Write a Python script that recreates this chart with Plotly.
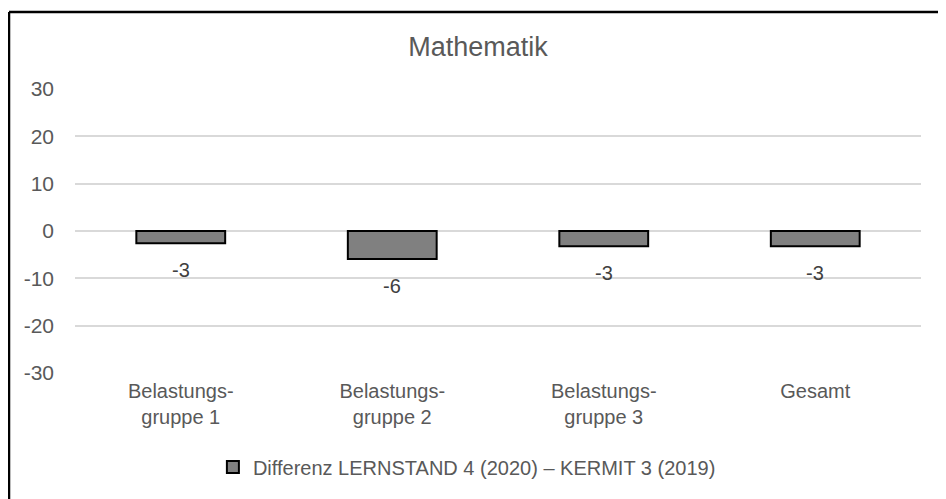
import plotly.graph_objects as go

categories = ["Belastungs-<br>gruppe 1", "Belastungs-<br>gruppe 2", "Belastungs-<br>gruppe 3", "Gesamt"]
values = [-2.6, -5.9, -3.2, -3.2]
series_name = "Differenz LERNSTAND 4 (2020) – KERMIT 3 (2019)"
tick_vals = [-30, -20, -10, 0, 10, 20, 30]
tick_text = ["-30", "-20", "-10", "0", "10", "20", "30"]
title_text = "Mathematik"

FONT = "Liberation Sans, Arial, sans-serif"
GRAY = "#595959"

fig = go.Figure()
fig.add_trace(go.Bar(
    x=categories, y=values, name=series_name,
    marker=dict(color="#808080", line=dict(color="black", width=2)),
    width=0.42, showlegend=True,
))

for c, v in zip(categories, values):
    fig.add_annotation(x=c, y=v, text=f"{round(v):d}", showarrow=False,
                       yshift=-27, yanchor="middle",
                       font=dict(family=FONT, size=20, color="#404040"))

fig.update_layout(
    width=938, height=491,
    margin=dict(l=67, r=25, t=81, b=126),
    paper_bgcolor="white", plot_bgcolor="white",
    font=dict(family=FONT, size=20, color=GRAY),
    title=dict(text=title_text, x=0.501, xref="container", xanchor="center",
               y=0.9206, yref="container", yanchor="middle",
               font=dict(family=FONT, size=27, color=GRAY)),
    showlegend=True,
    legend=dict(orientation="h", x=0.163, xanchor="left", y=-0.331, yanchor="middle",
                font=dict(family=FONT, size=20, color=GRAY), itemwidth=30),
)
fig.update_yaxes(range=[-30, 30], tickvals=tick_vals, ticktext=tick_text,
                 showgrid=True, gridcolor="#d9d9d9",
                 gridwidth=2, zeroline=True, zerolinecolor="#d9d9d9", zerolinewidth=2,
                 showline=False, ticklabelstandoff=20,
                 tickfont=dict(family=FONT, size=21, color=GRAY))
fig.update_xaxes(showgrid=False, showline=False, ticklabelstandoff=4,
                 tickfont=dict(family=FONT, size=20, color=GRAY))

# outer frame (top and left edges)
fig.add_shape(type="line", xref="paper", yref="paper", x0=-0.078, x1=1.2,
              y0=1.271, y1=1.271, line=dict(color="black", width=2.5))
fig.add_shape(type="line", xref="paper", yref="paper", x0=-0.078, x1=-0.078,
              y0=-0.6, y1=1.271, line=dict(color="black", width=2.5))

fig.write_html("out.html")
